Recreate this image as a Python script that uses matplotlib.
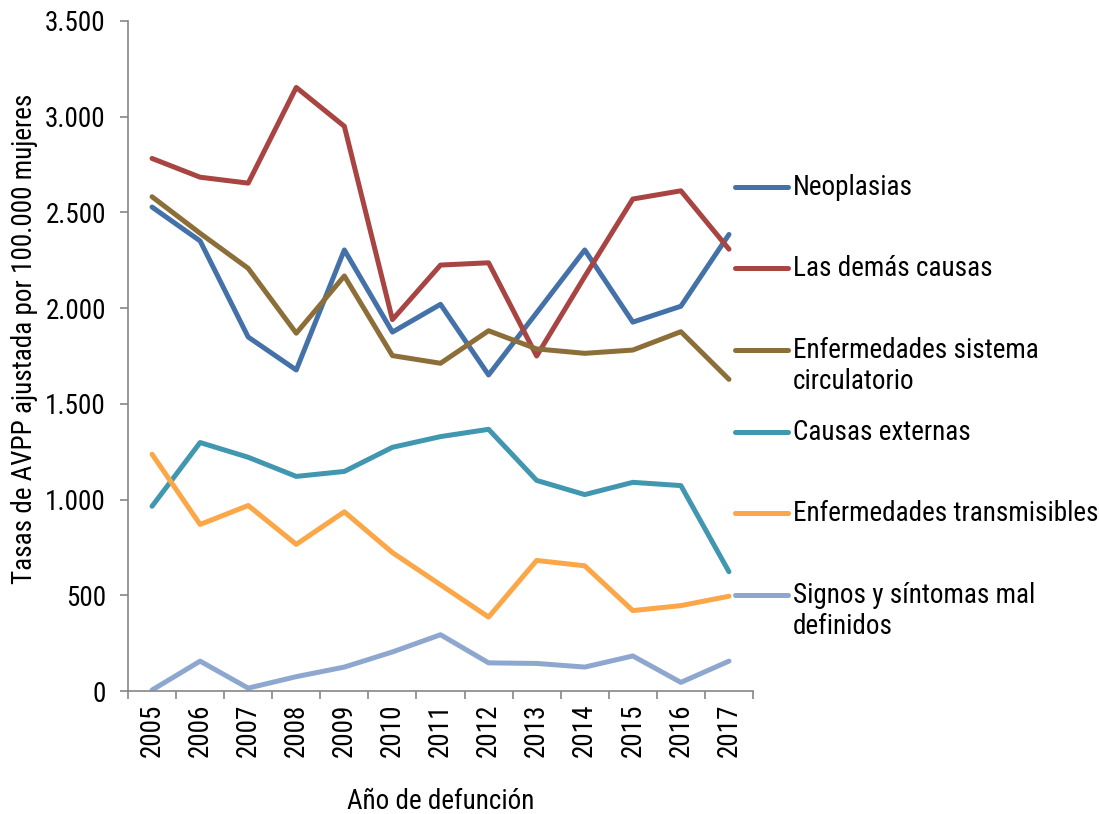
import matplotlib
matplotlib.use('Agg')
import matplotlib.pyplot as plt
from matplotlib.lines import Line2D
from matplotlib.ticker import FuncFormatter, FixedLocator

plt.rcParams['font.family'] = ['Roboto Condensed', 'DejaVu Sans']

years = list(range(2005, 2018))

neoplasias     = [2528, 2351, 1849, 1677, 2304, 1875, 2020, 1651, 1976, 2304, 1927, 2010, 2385]
demas_causas   = [2782, 2684, 2653, 3153, 2950, 1940, 2225, 2237, 1750, 2165, 2570, 2613, 2308]
circulatorio   = [2582, 2391, 2208, 1869, 2168, 1752, 1712, 1882, 1787, 1764, 1781, 1877, 1628]
externas       = [965, 1298, 1221, 1121, 1147, 1273, 1329, 1367, 1100, 1026, 1090, 1073, 623]
transmisibles  = [1237, 870, 969, 766, 936, 723, 555, 386, 682, 654, 420, 446, 495]
signos         = [5, 156, 15, 75, 125, 204, 294, 147, 144, 125, 183, 45, 156]

series = [
    ('Neoplasias', neoplasias, '#4472A8'),
    ('Las demás causas', demas_causas, '#A84442'),
    ('Enfermedades sistema\ncirculatorio', circulatorio, '#8C6E38'),
    ('Causas externas', externas, '#4097AF'),
    ('Enfermedades transmisibles', transmisibles, '#FBA647'),
    ('Signos y síntomas mal\ndefinidos', signos, '#8EA7CF'),
]

FS = 19.5

fig = plt.figure(figsize=(10.99, 8.14), dpi=100)
ax = fig.add_axes([128 / 1099, 1 - 691 / 814, (753 - 128) / 1099, (691 - 21) / 814])

for name, vals, col in series:
    ax.plot(years, vals, color=col, lw=3.6, solid_capstyle='round', solid_joinstyle='round')

ax.set_xlim(2004.5, 2017.5)
ax.set_ylim(0, 3500)
ax.set_yticks(range(0, 3501, 500))
ax.yaxis.set_major_formatter(FuncFormatter(lambda v, p: f'{int(v):,}'.replace(',', '.')))
ax.set_xticks(years)
ax.set_xticklabels([str(y) for y in years], rotation=90)
ax.xaxis.set_minor_locator(FixedLocator([y + 0.5 for y in range(2004, 2018)]))
ax.tick_params(axis='x', which='major', length=0, pad=9, labelsize=FS)
ax.tick_params(axis='x', which='minor', length=6, color='#868686', width=1.2)
ax.tick_params(axis='y', length=6, color='#868686', width=1.2, labelsize=FS, pad=10)

for s in ['top', 'right']:
    ax.spines[s].set_visible(False)
for s in ['left', 'bottom']:
    ax.spines[s].set_color('#868686')
    ax.spines[s].set_linewidth(1.2)

ax.set_ylabel('Tasas de AVPP ajustada por 100.000 mujeres', fontsize=FS)
ax.yaxis.set_label_coords(-0.144, 0.525)
ax.set_xlabel('Año de defunción', fontsize=FS, labelpad=22)

# legend drawn by hand to match the uneven Excel spacing
leg_y = [187, 268, 350, 432, 513, 595]
for (name, vals, col), yp in zip(series, leg_y):
    yf = 1 - yp / 814
    fig.add_artist(Line2D([735 / 1099, 788 / 1099], [yf, yf], color=col, lw=3.6,
                          solid_capstyle='round'))
    fig.text(793 / 1099, yf + 13 / 814, name, fontsize=FS, va='top', ha='left',
             linespacing=1.2)

fig.savefig('out.png', dpi=100)
